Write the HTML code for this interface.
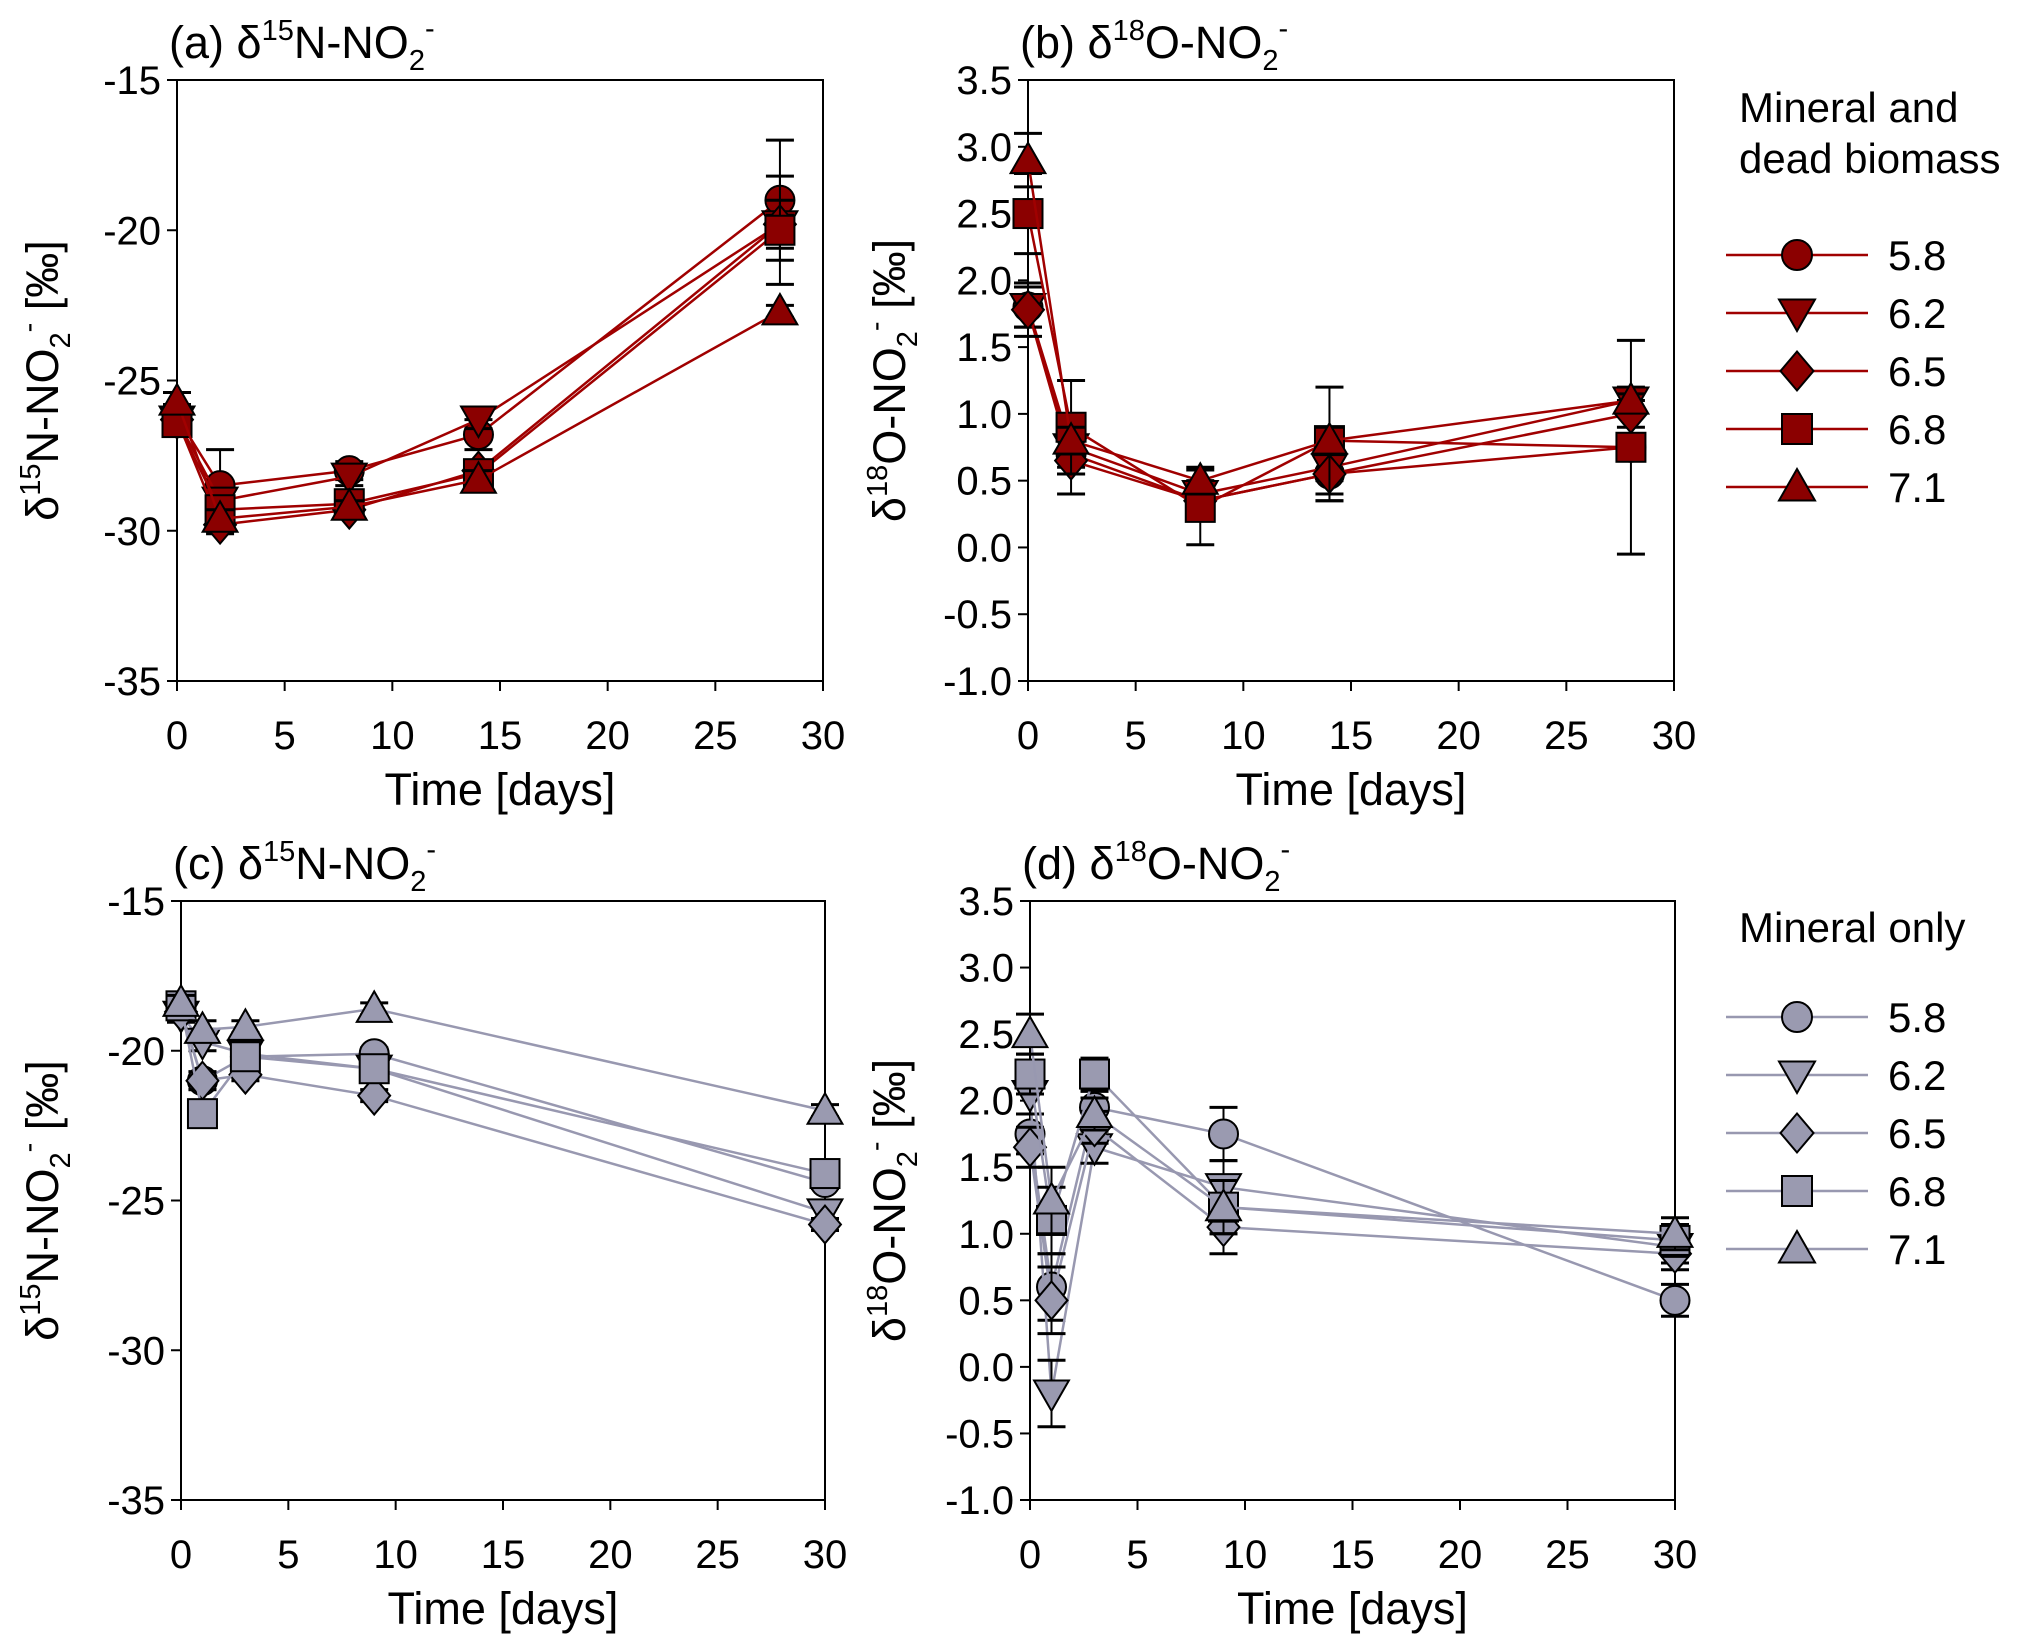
<!DOCTYPE html>
<html><head><meta charset="utf-8">
<style>
html,body{margin:0;padding:0;background:#fff;}
svg{display:block;font-family:"Liberation Sans",sans-serif;}
</style></head>
<body>
<svg id="fig" width="2027" height="1646" viewBox="0 0 2027 1646" xmlns="http://www.w3.org/2000/svg"></svg>
<script>
// ---------- DATA ----------
const seriesNames = ["5.8","6.2","6.5","6.8","7.1"];
const shapes = ["circle","down","diamond","square","up"];
const timesAB = [0,2,8,14,28];
const timesCD = [0,1,3,9,30];
const xTicks = [0,5,10,15,20,25,30];
const nTicks = [-15,-20,-25,-30,-35];
const oTicks = [3.5,3.0,2.5,2.0,1.5,1.0,0.5,0.0,-0.5,-1.0];

const a58 = [-26.2,-28.5,-28.0,-26.8,-19.0];
const a62 = [-26.3,-29.0,-28.2,-26.3,-19.8];
const a65 = [-26.3,-29.8,-29.3,-28.0,-19.8];
const a68 = [-26.4,-29.3,-29.1,-28.1,-20.0];
const a71 = [-25.7,-29.6,-29.2,-28.3,-22.7];
const aErr58 = [0.4,1.2,0.3,0.5,2.0];
const aErr62 = [0.3,0.4,0.3,0.3,0.8];
const aErr65 = [0.3,0.3,0.3,0.3,0.3];
const aErr68 = [0.4,0.4,0.3,0.3,1.8];
const aErr71 = [0.3,0.3,0.2,0.3,0.2];

const b58 = [1.8,0.70,0.35,0.55,0.75];
const b62 = [1.8,0.75,0.40,0.60,1.10];
const b65 = [1.78,0.65,0.35,0.55,1.00];
const b68 = [2.5,0.90,0.30,0.80,0.75];
const b71 = [2.9,0.80,0.50,0.80,1.10];
const bErr58 = [0.15,0.3,0.1,0.2,0.8];
const bErr62 = [0.15,0.15,0.1,0.1,0.1];
const bErr65 = [0.2,0.1,0.1,0.2,0.1];
const bErr68 = [0.3,0.35,0.28,0.4,0.1];
const bErr71 = [0.2,0.1,0.1,0.1,0.05];

const c58 = [-18.6,-21.0,-20.2,-20.1,-24.4];
const c62 = [-18.8,-19.7,-20.1,-20.6,-25.4];
const c65 = [-18.7,-21.0,-20.8,-21.5,-25.8];
const c68 = [-18.5,-22.1,-20.2,-20.6,-24.1];
const c71 = [-18.4,-19.3,-19.2,-18.6,-22.0];
const cErr = [0.25,0.3,0.2,0.2,0.2];

const d58 = [1.75,0.60,1.95,1.75,0.50];
const d62 = [2.05,-0.20,1.65,1.35,0.90];
const d65 = [1.65,0.50,1.80,1.05,0.85];
const d68 = [2.20,1.10,2.20,1.20,0.95];
const d71 = [2.50,1.25,1.90,1.20,1.00];
const dErr = [0.15,0.25,0.12,0.2,0.12];

// ---------- DRAW ----------
const NS="http://www.w3.org/2000/svg";
const svg=document.getElementById('fig');
function mk(tag,attrs,parent){const e=document.createElementNS(NS,tag);for(const k in attrs)e.setAttribute(k,attrs[k]);(parent||svg).appendChild(e);return e;}

function marker(g,shape,x,y,fill,r){
  let e;
  if(shape==="circle") e=mk('circle',{cx:x,cy:y,r:r,fill:fill,stroke:'#000','stroke-width':2},g);
  else if(shape==="square") e=mk('rect',{x:x-r,y:y-r,width:2*r,height:2*r,fill:fill,stroke:'#000','stroke-width':2},g);
  else if(shape==="diamond") e=mk('polygon',{points:`${x},${y-r*1.3} ${x+r*1.1},${y} ${x},${y+r*1.3} ${x-r*1.1},${y}`,fill:fill,stroke:'#000','stroke-width':2},g);
  else if(shape==="up") e=mk('polygon',{points:`${x},${y-r*1.2} ${x+r*1.2},${y+r*0.9} ${x-r*1.2},${y+r*0.9}`,fill:fill,stroke:'#000','stroke-width':2},g);
  else e=mk('polygon',{points:`${x},${y+r*1.2} ${x+r*1.2},${y-r*0.9} ${x-r*1.2},${y-r*0.9}`,fill:fill,stroke:'#000','stroke-width':2},g);
  return e;
}

function panel(cfg){
  const {L,R,T,B,ymin,ymax,yTicks,yDec,times,series,errs,lineCol,fill,name,title,ytitleX,ytitle} = cfg;
  const g=mk('g',{});
  
  
  const X=v=>L+(v-0)/(30-0)*(R-L);
  const Y=v=>B-(v-ymin)/(ymax-ymin)*(B-T);
  const frame=mk('rect',{x:L,y:T,width:R-L,height:B-T,fill:'none',stroke:'#000','stroke-width':2},g);
  
  
  yTicks.forEach(t=>{
    const y=Y(t);
    mk('line',{x1:L-10,y1:y,x2:L,y2:y,stroke:'#000','stroke-width':2},g);
    const tx=mk('text',{x:L-16,y:y+14,'text-anchor':'end','font-size':40},g);
    tx.textContent = yDec? t.toFixed(1) : String(t);
    
    
  });
  xTicks.forEach(t=>{
    const x=X(t);
    mk('line',{x1:x,y1:B,x2:x,y2:B+10,stroke:'#000','stroke-width':2},g);
    const tx=mk('text',{x:x,y:B+68,'text-anchor':'middle','font-size':40},g);
    tx.textContent=String(t);
    
    
  });
  const xt=mk('text',{x:(L+R)/2,y:B+124,'text-anchor':'middle','font-size':45},g);
  xt.textContent='Time [days]';
  
  
  const yt=mk('text',{transform:`translate(${ytitleX},${(T+B)/2}) rotate(-90)`,'text-anchor':'middle','font-size':45},g);
  
  
  yt.innerHTML=`δ<tspan font-size="29" dy="-18">${ytitle}</tspan><tspan dy="18">${ytitle==="15"?"N":"O"}-NO</tspan><tspan font-size="29" dy="12">2</tspan><tspan font-size="29" dy="-32">-</tspan><tspan dy="20"> [‰]</tspan>`;
  const tt=mk('text',{x:L-8,y:T-22,'font-size':45},g);
  
  
  tt.innerHTML=title;
  series.forEach((vals,si)=>{
    const sg=mk('g',{},g);
    
    
    const err=errs[si];
    const pts=vals.map((v,i)=>`${X(times[i])},${Y(v)}`).join(' ');
    mk('polyline',{points:pts,fill:'none',stroke:lineCol,'stroke-width':2.5},sg);
    vals.forEach((v,i)=>{
      const x=X(times[i]), y1=Y(v+err[i]), y2=Y(v-err[i]);
      mk('line',{x1:x,y1:y1,x2:x,y2:y2,stroke:'#000','stroke-width':2},sg);
      mk('line',{x1:x-14,y1:y1,x2:x+14,y2:y1,stroke:'#000','stroke-width':3},sg);
      mk('line',{x1:x-14,y1:y2,x2:x+14,y2:y2,stroke:'#000','stroke-width':3},sg);
    });
    vals.forEach((v,i)=>{
      const m=marker(sg,shapes[si],X(times[i]),Y(v),fill,14.5);
      
      
    });
  });
}

function legend(x0,yHead,head,rows0,lineCol,fill,name){
  const g=mk('g',{});
  
  
  head.forEach((h,i)=>{const t=mk('text',{x:x0+13,y:yHead+i*51,'font-size':42},g);t.textContent=h;});
  seriesNames.forEach((s,i)=>{
    const y=rows0+i*58;
    mk('line',{x1:x0,y1:y,x2:x0+142,y2:y,stroke:lineCol,'stroke-width':2.5},g);
    marker(g,shapes[i],x0+71,y,fill,15);
    const t=mk('text',{x:x0+162,y:y+15,'font-size':42},g);
    t.textContent=s;
    
    
  });
}

const red='#a00000', redFill='#8b0000', grayL='#9898b0', grayF='#9a9ab0';
const sup=(s)=>`<tspan font-size="29" dy="-18">${s}</tspan>`;
const cE=[cErr,cErr,cErr,cErr,cErr], dE=[dErr,dErr,dErr,dErr,dErr];
panel({L:177,R:823,T:80,B:681,ymin:-35,ymax:-15,yTicks:nTicks,yDec:false,times:timesAB,series:[a58,a62,a65,a68,a71],errs:[aErr58,aErr62,aErr65,aErr68,aErr71],lineCol:red,fill:redFill,name:'panel-a',
  title:`(a) δ${sup('15')}<tspan dy="18">N-NO</tspan><tspan font-size="29" dy="12">2</tspan><tspan font-size="29" dy="-32">-</tspan>`,ytitleX:58,ytitle:'15'});
panel({L:1028,R:1674,T:80,B:681,ymin:-1,ymax:3.5,yTicks:oTicks,yDec:true,times:timesAB,series:[b58,b62,b65,b68,b71],errs:[bErr58,bErr62,bErr65,bErr68,bErr71],lineCol:red,fill:redFill,name:'panel-b',
  title:`(b) δ${sup('18')}<tspan dy="18">O-NO</tspan><tspan font-size="29" dy="12">2</tspan><tspan font-size="29" dy="-32">-</tspan>`,ytitleX:905,ytitle:'18'});
panel({L:181,R:825,T:901,B:1500,ymin:-35,ymax:-15,yTicks:nTicks,yDec:false,times:timesCD,series:[c58,c62,c65,c68,c71],errs:cE,lineCol:grayL,fill:grayF,name:'panel-c',
  title:`(c) δ${sup('15')}<tspan dy="18">N-NO</tspan><tspan font-size="29" dy="12">2</tspan><tspan font-size="29" dy="-32">-</tspan>`,ytitleX:58,ytitle:'15'});
panel({L:1030,R:1675,T:901,B:1500,ymin:-1,ymax:3.5,yTicks:oTicks,yDec:true,times:timesCD,series:[d58,d62,d65,d68,d71],errs:dE,lineCol:grayL,fill:grayF,name:'panel-d',
  title:`(d)  δ${sup('18')}<tspan dy="18">O-NO</tspan><tspan font-size="29" dy="12">2</tspan><tspan font-size="29" dy="-32">-</tspan>`,ytitleX:905,ytitle:'18'});
legend(1726,122,["Mineral and","dead biomass"],255,red,redFill,'legend-top');
legend(1726,942,["Mineral only"],1017,grayL,grayF,'legend-bottom');
</script>
</body></html>
